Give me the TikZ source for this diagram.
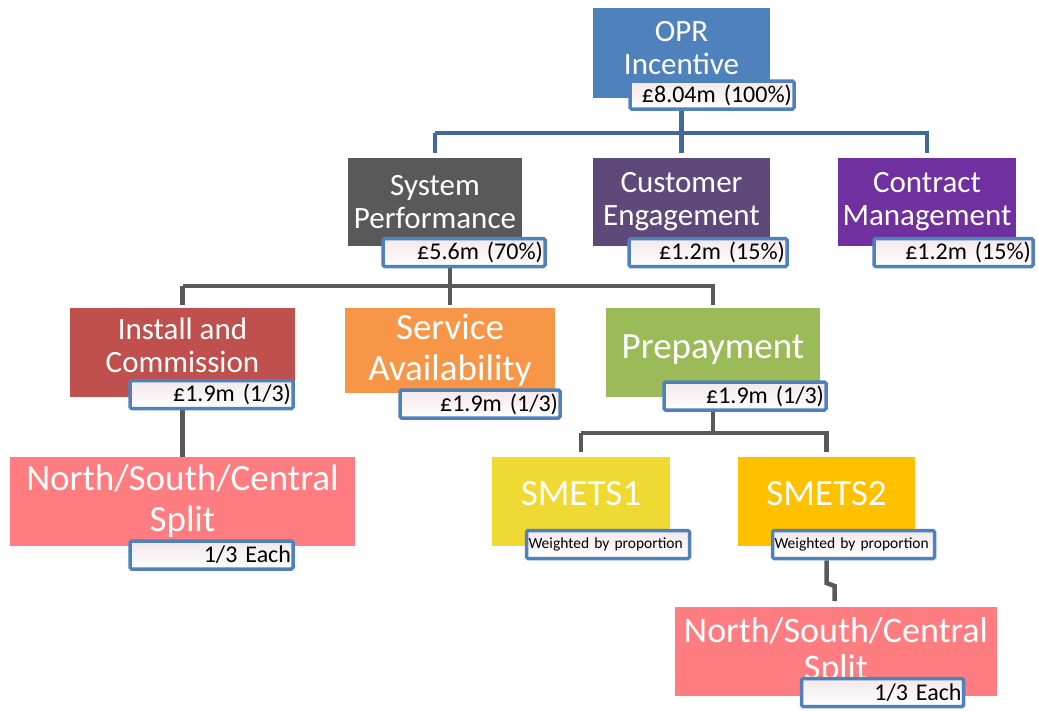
\documentclass[tikz,border=0pt]{standalone}
\usepackage{fontspec}
\setmainfont{Carlito}
\usetikzlibrary{backgrounds}
\definecolor{oprblue}{HTML}{4F81BD}
\definecolor{sysgrey}{HTML}{595959}
\definecolor{custpurple}{HTML}{5F497A}
\definecolor{contpurple}{HTML}{7030A0}
\definecolor{instred}{HTML}{C0504D}
\definecolor{servorange}{HTML}{F79646}
\definecolor{prepgreen}{HTML}{9BBB59}
\definecolor{splitpink}{HTML}{FF7C80}
\definecolor{smetsyellow}{HTML}{EFD932}
\definecolor{smetsgold}{HTML}{FFC000}
\definecolor{topline}{HTML}{41699A}
\definecolor{valtop}{HTML}{F3E8EA}
\tikzset{>=stealth,
  mainbox/.style={rectangle, text=white, align=center, inner sep=2pt, font=\fontsize{31}{33}\selectfont},
  bigbox/.style={mainbox, font=\fontsize{37}{41}\selectfont},
  valbox/.style={draw=oprblue, line width=3.5pt, rounded corners=1.5pt, top color=valtop, bottom color=white,
    minimum height=28pt, inner sep=2pt, align=right, font=\fontsize{24}{26}\selectfont},
  smallval/.style={valbox, align=left, font=\fontsize{15.5}{17}\selectfont},
  topconn/.style={draw=topline, line width=4.5pt},
  subconn/.style={draw=sysgrey, line width=4.5pt}}

\begin{document}
\begin{tikzpicture}[x=1pt,y=-1pt]
    \useasboundingbox (0,0) rectangle (1038,710);
    % top level
    \node[mainbox, fill=oprblue, minimum width=177pt, minimum height=90pt, text height=48pt, text depth=6pt] (opr) at (681.5,53) {OPR\\Incentive};
    \node[valbox, text width=160pt] (oprv) at (712,95) {£8.04m (100\%)};
    % second level
    \node[mainbox, fill=sysgrey, minimum width=174pt, minimum height=88pt] (sys) at (435,202) {System\\Performance};
    \node[valbox, text width=158pt] (sysv) at (464,252.5) {£5.6m (70\%)};
    \node[mainbox, fill=custpurple, minimum width=177pt, minimum height=88pt] (cust) at (681.5,202) {Customer\\Engagement};
    \node[valbox, text width=154pt] (custv) at (708,252.5) {£1.2m (15\%)};
    \node[mainbox, fill=contpurple, minimum width=178pt, minimum height=88pt] (cont) at (927,202) {Contract\\Management};
    \node[valbox, text width=155pt] (contv) at (953.5,252.5) {£1.2m (15\%)};
    % third level
    \node[mainbox, fill=instred, minimum width=225pt, minimum height=89pt, text height=45pt, text depth=6pt] (inst) at (182.5,352.5) {Install and\\Commission};
    \node[valbox, text width=159pt] (instv) at (211.5,394.5) {£1.9m (1/3)};
    \node[bigbox, fill=servorange, minimum width=210pt, minimum height=85pt] (serv) at (450,350.5) {Service\\Availability};
    \node[valbox, text width=156pt] (servv) at (480,404) {£1.9m (1/3)};
    \node[bigbox, fill=prepgreen, minimum width=214pt, minimum height=89pt, text height=38pt, text depth=27pt] (prep) at (713,352.5) {Prepayment};
    \node[valbox, text width=158pt] (prepv) at (745,396) {£1.9m (1/3)};
    % fourth level
    \node[bigbox, fill=splitpink, minimum width=345pt, minimum height=89pt] (nscl) at (182.5,501.5) {North/South/Central\\Split};
    \node[valbox, text width=159pt] (nsclv) at (211.5,555) {1/3 Each};
    \node[bigbox, fill=smetsyellow, minimum width=178pt, minimum height=89pt, text height=27pt, text depth=20pt] (sm1) at (581,501.5) {SMETS1};
    \node[smallval, text width=159pt] (sm1v) at (608,544.5) {Weighted by proportion};
    \node[bigbox, fill=smetsgold, minimum width=177pt, minimum height=89pt, text height=27pt, text depth=20pt] (sm2) at (826.5,501.5) {SMETS2};
    \node[smallval, text width=158pt] (sm2v) at (853.5,544.5) {Weighted by proportion};
    \node[bigbox, fill=splitpink, minimum width=322pt, minimum height=89pt, font=\fontsize{36}{37}\selectfont] (nscr) at (836,651.5) {North/South/Central\\Split};
    \node[valbox, text width=158pt] (nscrv) at (882.5,692.5) {1/3 Each};
    % connectors
    \coordinate (j0) at (681.5,133);
    \coordinate (j1) at (450,286);
    \coordinate (j2) at (713,433);
    \coordinate (j3) at (826.5,583);
    \begin{scope}[on background layer]
    \draw[topconn] (opr.south) -- (j0);
    \draw[topconn] (j0 -| sys) -- ++(0,20) (j0 -| sys) -- (j0 -| cont) -- ++(0,20) (j0) -- ++(0,20);
    \draw[subconn] (sysv.south -| j1) -- (j1) (j1 -| inst) -- ++(0,19) (j1 -| inst) -- (j1 -| prep) -- ++(0,19) (j1) -- ++(0,19);
    \draw[subconn] (instv.south -| inst) -- (nscl.north -| inst);
    \draw[subconn] (prepv.south -| j2) -- (j2) (j2 -| sm1) -- ++(0,19) (j2 -| sm1) -- (j2 -| sm2) -- ++(0,19);
    \draw[subconn] (sm2v.south -| sm2) -- (j3) -- ++(8,3) -- ++(0,15);
    \end{scope}
\end{tikzpicture}
\end{document}
